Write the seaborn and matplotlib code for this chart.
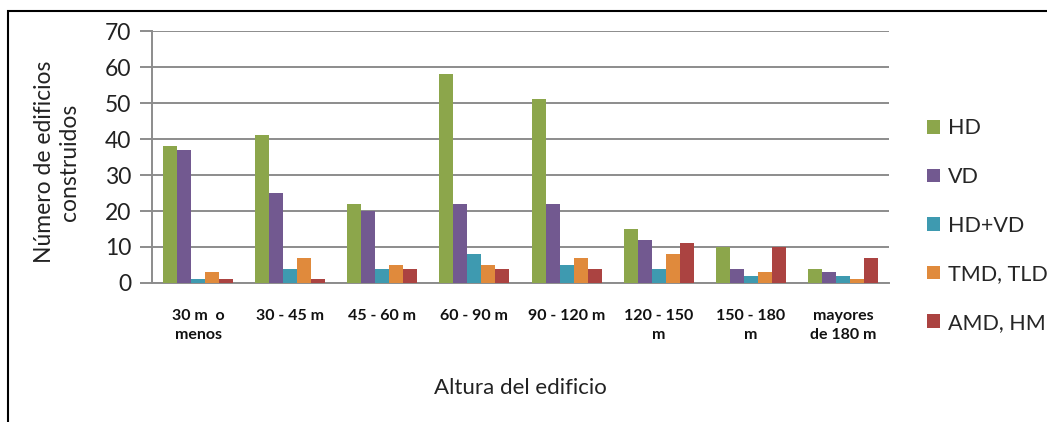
import matplotlib
matplotlib.use("Agg")
import matplotlib.pyplot as plt
import seaborn as sns
import pandas as pd
from matplotlib.patches import Rectangle, Patch

categories = ["30 m  o\nmenos", "30 - 45 m", "45 - 60 m", "60 - 90 m", "90 - 120 m",
              "120 - 150\nm", "150 - 180\nm", "mayores\nde 180 m"]
series = ["HD", "VD", "HD+VD", "TMD, TLD", "AMD, HM"]
hd = [38, 41, 22, 58, 51, 15, 10, 4]
vd = [37, 25, 20, 22, 22, 12, 4, 3]
hd_vd = [1, 4, 4, 8, 5, 4, 2, 2]
tmd_tld = [3, 7, 5, 5, 7, 8, 3, 1]
amd_hm = [1, 1, 4, 4, 4, 11, 10, 7]
colors = ["#8CA64B", "#725990", "#3E9AB0", "#E08A3C", "#AB4341"]

rows = []
for name, vals in zip(series, [hd, vd, hd_vd, tmd_tld, amd_hm]):
    for cat, v in zip(categories, vals):
        rows.append({"Altura": cat, "Tipo": name, "Edificios": v})
df = pd.DataFrame(rows)

sns.set_style("white")
plt.rcParams["font.family"] = ["Lato", "DejaVu Sans"]

fig = plt.figure(figsize=(10.47, 4.22), dpi=100)
ax = fig.add_axes([0.1452, 0.3294, 0.7038, 0.5971])

sns.barplot(data=df, x="Altura", y="Edificios", hue="Tipo", order=categories,
            hue_order=series, palette=colors, width=0.76, gap=0, linewidth=0,
            saturation=1, legend=False, ax=ax, zorder=3)

ax.set_ylim(0, 70)
ax.set_yticks(range(0, 71, 10))
ax.set_xlim(-0.5, len(categories) - 0.5)
ax.yaxis.grid(True, color="#8C8C8C", linewidth=1.4, zorder=0)
ax.set_axisbelow(True)
for s in ["top", "right"]:
    ax.spines[s].set_visible(False)
for s in ["left", "bottom"]:
    ax.spines[s].set_color("#8C8C8C")
    ax.spines[s].set_linewidth(1.4)
ax.tick_params(axis="y", length=9, width=1.4, color="#8C8C8C", direction="out",
               labelsize=16.5, pad=6, labelcolor="#222222", left=True)
ax.tick_params(axis="x", length=0, pad=19)
for lab in ax.get_xticklabels():
    lab.set_fontsize(11.5)
    lab.set_fontweight("bold")
    lab.set_linespacing(1.45)
    lab.set_color("#111111")

ax.set_xlabel("Altura del edificio", fontsize=16, labelpad=26, color="#222222")
ax.set_ylabel("Número de edificios\nconstruidos", fontsize=16.5, color="#222222",
              linespacing=1.25)
ax.yaxis.set_label_coords(-0.098, 0.48)

handles = [Patch(facecolor=c, edgecolor="none") for c in colors]
fig.legend(handles, series, loc="upper left", bbox_to_anchor=(0.877, 0.74),
           frameon=False, fontsize=15.5, handlelength=0.6, handleheight=0.6,
           handletextpad=0.4, labelspacing=1.33, borderaxespad=0)

fig.add_artist(Rectangle((8 / 1047, -0.1), 1.2, (422 - 11) / 422 + 0.1,
                         transform=fig.transFigure, fill=False,
                         edgecolor="black", linewidth=1.5))

fig.savefig("out.png", dpi=100, facecolor="white")
